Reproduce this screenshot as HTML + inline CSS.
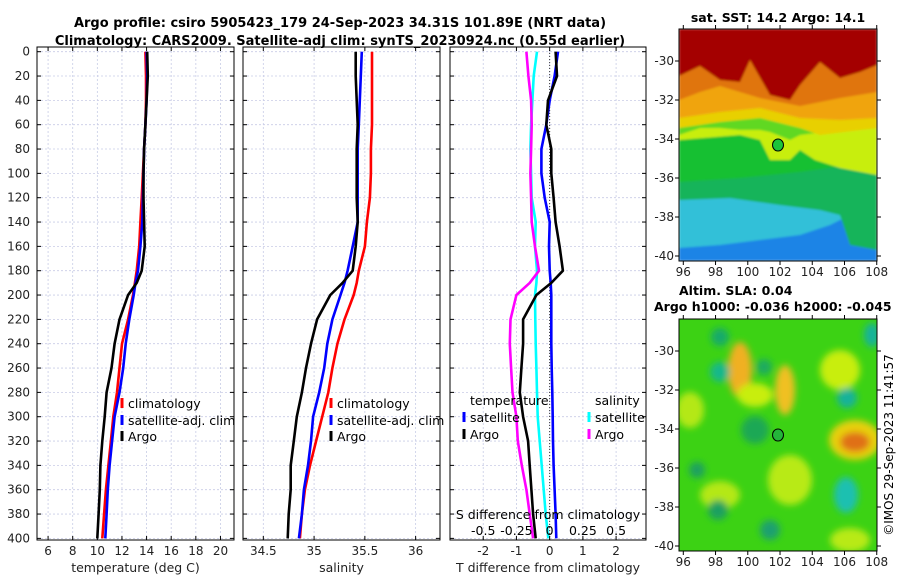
<!DOCTYPE html>
<html><head><meta charset="utf-8"><style>
body{margin:0;background:#fff}
svg{display:block;font-family:"DejaVu Sans","Liberation Sans",sans-serif}
</style></head><body>
<svg id="fig" width="900" height="580" viewBox="0 0 900 580" xmlns="http://www.w3.org/2000/svg">
<defs>
<filter id="b1" x="-20%" y="-20%" width="140%" height="140%"><feGaussianBlur stdDeviation="1"/></filter>
<filter id="b2" x="-50%" y="-50%" width="200%" height="200%"><feGaussianBlur stdDeviation="3.5"/></filter>
<clipPath id="cm1"><rect x="679" y="29" width="198" height="232"/></clipPath>
<clipPath id="cm2"><rect x="679" y="319" width="198" height="232"/></clipPath>
</defs>
<text x="340" y="27" text-anchor="middle" font-size="13" font-weight="bold">Argo profile: csiro 5905423_179 24-Sep-2023 34.31S 101.89E (NRT data)</text>
<text x="340" y="45" text-anchor="middle" font-size="13" font-weight="bold">Climatology: CARS2009. Satellite-adj clim: synTS_20230924.nc (0.55d earlier)</text>
<g id="panels"></g>
<!-- SST map -->
<g>
<text x="778" y="22" text-anchor="middle" font-size="12.5" font-weight="bold">sat. SST: 14.2 Argo: 14.1</text>
<g clip-path="url(#cm1)" filter="url(#b1)">
<rect x="679" y="29" width="198" height="232" fill="#1c84e6"/>
<polygon points="679,29 877,29 877,205 850,215 830,225 800,235 760,240 720,245 679,248" fill="#30c0d8"/>
<polygon points="679,29 877,29 877,250 850,245 840,215 820,210 780,205 730,198 679,200" fill="#14b45a"/>
<polygon points="679,29 877,29 877,165 850,165 800,172 740,178 679,182" fill="#12c030"/>
<polygon points="679,29 877,29 877,175 840,168 815,160 800,150 790,160 770,160 760,140 740,135 679,140" fill="#c8ee10"/>
<polygon points="679,29 877,29 877,125 800,135 790,140 770,132 760,130 740,130 720,128 700,128 679,135" fill="#60d820"/>
<polygon points="679,29 877,29 877,128 820,135 800,128 760,118 720,122 679,128" fill="#e8d000"/>
<polygon points="679,29 877,29 877,118 840,120 800,118 760,108 720,112 679,118" fill="#f0a410"/>
<polygon points="679,29 877,29 877,92 840,98 800,106 760,98 720,86 700,92 679,100" fill="#e07408"/>
<polygon points="679,29 877,29 877,65 860,72 840,78 820,62 800,85 790,100 770,95 750,60 740,82 720,80 700,66 679,76" fill="#a40000"/>
</g>
<rect x="679" y="29" width="198" height="232" fill="none" stroke="#000"/>
<ellipse cx="778" cy="145" rx="5.5" ry="6" fill="#1cc43a" stroke="#000"/>
</g>
<!-- SLA map -->
<g>
<text x="679" y="295" font-size="12.5" font-weight="bold">Altim. SLA: 0.04</text>
<text x="654" y="311" font-size="12.5" font-weight="bold">Argo h1000: -0.036 h2000: -0.045</text>
<g clip-path="url(#cm2)">
<rect x="679" y="319" width="198" height="232" fill="#3cd214"/>
<g filter="url(#b2)">
<ellipse cx="740" cy="370" rx="12" ry="28" fill="#f0b020"/>
<ellipse cx="785" cy="390" rx="10" ry="25" fill="#f0c020"/>
<ellipse cx="755" cy="395" rx="18" ry="12" fill="#c8ee10"/>
<ellipse cx="855" cy="440" rx="26" ry="20" fill="#e8d010"/>
<ellipse cx="855" cy="442" rx="15" ry="10" fill="#e07018"/>
<ellipse cx="840" cy="370" rx="20" ry="20" fill="#c8ee10"/>
<ellipse cx="690" cy="410" rx="14" ry="18" fill="#b4e814"/>
<ellipse cx="720" cy="495" rx="20" ry="14" fill="#b4e814"/>
<ellipse cx="790" cy="480" rx="22" ry="25" fill="#b8ea14"/>
<ellipse cx="850" cy="540" rx="20" ry="12" fill="#b8ea14"/>
<ellipse cx="720" cy="337" rx="9" ry="9" fill="#14aa6a"/>
<ellipse cx="720" cy="372" rx="10" ry="10" fill="#18b88a"/>
<ellipse cx="764" cy="367" rx="8" ry="8" fill="#1aaa60"/>
<ellipse cx="847" cy="398" rx="10" ry="10" fill="#18b29a"/>
<ellipse cx="846" cy="495" rx="12" ry="18" fill="#1ac0b0"/>
<ellipse cx="755" cy="430" rx="14" ry="14" fill="#1aa854"/>
<ellipse cx="718" cy="510" rx="10" ry="10" fill="#1aa060"/>
<ellipse cx="770" cy="530" rx="10" ry="10" fill="#1aa070"/>
<ellipse cx="697" cy="470" rx="8" ry="8" fill="#1aa060"/>
<ellipse cx="872" cy="335" rx="8" ry="12" fill="#18b29a"/>
</g>
</g>
<rect x="679" y="319" width="198" height="232" fill="none" stroke="#000"/>
<ellipse cx="778" cy="435" rx="5.5" ry="6" fill="#24b43a" stroke="#000"/>
<text x="888" y="440" text-anchor="middle" font-size="12" transform="rotate(-90 893 440)">©IMOS 29-Sep-2023 11:41:57</text>
</g>
<g id="mapaxes"></g>
</svg>
<script>
// ---- data ----
const depths = [0,20,40,60,80,100,120,140,160,180,190,200,220,240,260,280,300,320,340,360,380,400];
const tempClim = [13.9,13.95,13.95,13.9,13.8,13.7,13.6,13.5,13.4,13.2,13.05,12.9,12.5,12.0,11.8,11.6,11.3,11.1,10.9,10.7,10.55,10.4];
const tempSat  = [14.0,14.05,14.0,13.9,13.8,13.75,13.7,13.65,13.5,13.3,13.1,12.95,12.6,12.3,12.1,11.8,11.4,11.2,11.0,10.85,10.75,10.65];
const tempArgo = [14.05,14.1,14.0,13.9,13.8,13.75,13.75,13.8,13.85,13.6,13.2,12.5,11.8,11.4,11.15,10.75,10.6,10.4,10.25,10.2,10.1,10.0];
const salClim  = [35.57,35.57,35.57,35.57,35.56,35.56,35.55,35.52,35.5,35.44,35.42,35.39,35.3,35.23,35.18,35.14,35.08,35.02,34.96,34.91,34.88,34.86];
const salSat   = [35.47,35.46,35.45,35.44,35.43,35.43,35.43,35.43,35.38,35.33,35.3,35.26,35.18,35.13,35.1,35.05,34.99,34.97,34.94,34.9,34.88,34.85];
const salArgo  = [35.41,35.41,35.42,35.43,35.42,35.42,35.42,35.43,35.41,35.38,35.28,35.16,35.03,34.97,34.92,34.88,34.83,34.8,34.77,34.77,34.75,34.74];
const dTsat  = [0.25,0.15,0.0,-0.1,-0.25,-0.25,-0.15,0.0,-0.02,0.0,0.03,0.05,0.05,0.05,0.06,0.08,0.09,0.1,0.12,0.15,0.18,0.2];
const dTargo = [0.18,0.22,-0.05,-0.1,0.05,0.05,0.12,0.18,0.3,0.4,0.05,-0.4,-0.8,-0.8,-0.85,-0.9,-0.8,-0.65,-0.6,-0.55,-0.5,-0.42];
const dSsat  = [-0.095,-0.12,-0.13,-0.14,-0.145,-0.14,-0.135,-0.105,-0.11,-0.095,-0.1,-0.11,-0.108,-0.105,-0.1,-0.095,-0.09,-0.075,-0.06,-0.045,-0.03,-0.01];
const dSargo = [-0.175,-0.16,-0.14,-0.135,-0.14,-0.145,-0.14,-0.135,-0.11,-0.08,-0.15,-0.25,-0.295,-0.3,-0.29,-0.28,-0.25,-0.24,-0.21,-0.175,-0.15,-0.125];
const tTicks = [6,8,10,12,14,16,18,20];
const sTicks = [34.5,35,35.5,36];
const dTTicks = [-2,-1,0,1,2];
const dSTickLabels = ["-0.5","-0.25","0","0.25","0.5"];
const depthTicks = [0,20,40,60,80,100,120,140,160,180,200,220,240,260,280,300,320,340,360,380,400];
const lonTicks = [96,98,100,102,104,106,108];
const latTicks = [-30,-32,-34,-36,-38,-40];

const NS='http://www.w3.org/2000/svg';
const svg=document.getElementById('fig');
function mk(tag,attrs,parent){const e=document.createElementNS(NS,tag);for(const k in attrs)e.setAttribute(k,attrs[k]);(parent||svg).appendChild(e);return e;}
const top0=47, bot=540;
const yD = d => 51.7 + d*1.2167;

const panels=[
 {name:'temperature',x0:37,x1:234,v0:5.1,v1:21.1,ticks:tTicks,labels:tTicks.map(String),xlabel:'temperature (deg C)',
  series:[[tempClim,'#ff0000'],[tempSat,'#0000ff'],[tempArgo,'#000000']]},
 {name:'salinity',x0:243,x1:440,v0:34.3,v1:36.24,ticks:sTicks,labels:sTicks.map(String),xlabel:'salinity',
  series:[[salClim,'#ff0000'],[salSat,'#0000ff'],[salArgo,'#000000']]},
 {name:'difference',x0:450,x1:646,v0:-3.0,v1:2.9,ticks:dTTicks,labels:dTTicks.map(String),xlabel:'T difference from climatology',
  series:[[dSsat.map(v=>v*4),'#00ffff'],[dSargo.map(v=>v*4),'#ff00ff'],[dTsat,'#0000ff'],[dTargo,'#000000']]}
];
const pg=document.getElementById('panels');
panels.forEach((p,pi)=>{
  const xs=v=>p.x0+(v-p.v0)/(p.v1-p.v0)*(p.x1-p.x0);
  const g=mk('g',{},pg);
  
  
  p.ticks.forEach(t=>{const l=mk('line',{x1:xs(t),x2:xs(t),y1:top0,y2:bot,stroke:'#c8cce6','stroke-width':0.8,'stroke-dasharray':'2,2'},g);
    });
  depthTicks.forEach(d=>{const l=mk('line',{x1:p.x0,x2:p.x1,y1:yD(d),y2:yD(d),stroke:'#c8cce6','stroke-width':0.8,'stroke-dasharray':'2,2'},g);
    });
  if(pi===2){const z=mk('line',{x1:xs(0),x2:xs(0),y1:top0,y2:bot,stroke:'#333','stroke-width':1,'stroke-dasharray':'1,2'},g);
    }
  p.series.forEach(([vals,col])=>{
    const pts=vals.map((v,i)=>xs(v).toFixed(1)+','+yD(depths[i]).toFixed(1)).join(' ');
    const pl=mk('polyline',{points:pts,fill:'none',stroke:col,'stroke-width':2.6,'stroke-linejoin':'round'},g);
    
  });
  const fr=mk('rect',{x:p.x0,y:top0,width:p.x1-p.x0,height:bot-top0,fill:'none',stroke:'#000','stroke-width':1},g);
  
  p.ticks.forEach((t,i)=>{
    mk('line',{x1:xs(t),x2:xs(t),y1:bot,y2:bot-4,stroke:'#000'},g);
    mk('line',{x1:xs(t),x2:xs(t),y1:top0,y2:top0+4,stroke:'#000'},g);
    const tx=mk('text',{x:xs(t),y:555,'text-anchor':'middle','font-size':12,fill:'#222'},g);
    tx.textContent=p.labels[i];
    
  });
  depthTicks.forEach(d=>{
    mk('line',{x1:p.x0,x2:p.x0+4,y1:yD(d),y2:yD(d),stroke:'#000'},g);
    mk('line',{x1:p.x1,x2:p.x1-4,y1:yD(d),y2:yD(d),stroke:'#000'},g);
    if(pi===0){const tx=mk('text',{x:30,y:yD(d)+4,'text-anchor':'end','font-size':12,fill:'#222'},g);tx.textContent=d;
      }
  });
  const xl=mk('text',{x:(p.x0+p.x1)/2,y:572,'text-anchor':'middle','font-size':12.5,fill:'#222'},g);
  xl.textContent=p.xlabel;
  
});
function legend(x,y,col,label,name){
  mk('rect',{x:x-1.5,y:y-10,width:3,height:10,fill:col});
  const t=mk('text',{x:x+6,y:y,'font-size':12.5,fill:'#000'});t.textContent=label;
  
}
[122,331].forEach(lx=>{
  legend(lx,408,'#ff0000','climatology','legend-climatology');
  legend(lx,425,'#0000ff','satellite-adj. clim','legend-satellite-adj');
  legend(lx,441,'#000000','Argo','legend-argo');
});
let t=mk('text',{x:470,y:405,'font-size':12.5});t.textContent='temperature';

t=mk('text',{x:595,y:405,'font-size':12.5});t.textContent='salinity';

legend(464,422,'#0000ff','satellite','legend-t-satellite');
legend(464,439,'#000000','Argo','legend-t-argo');
legend(589,422,'#00ffff','satellite','legend-s-satellite');
legend(589,439,'#ff00ff','Argo','legend-s-argo');
t=mk('text',{x:548,y:519,'text-anchor':'middle','font-size':12.5});t.textContent='S difference from climatology';

dSTickLabels.forEach((lab,i)=>{
  const x=450+(dTTicks[i]+3.0)/5.9*196;
  const tt=mk('text',{x:x,y:535,'text-anchor':'middle','font-size':12.5});tt.textContent=lab;
  
});
const ma=document.getElementById('mapaxes');
const lonX=v=>683.3+(v-96)*16.12;
[[29,261,61],[319,551,351]].forEach(([mt,mb,l30])=>{
  const latY=v=>l30+(-30-v)*19.5;
  lonTicks.forEach(v=>{
    mk('line',{x1:lonX(v),x2:lonX(v),y1:mb,y2:mb+4,stroke:'#000'},ma);
    mk('line',{x1:lonX(v),x2:lonX(v),y1:mt,y2:mt-4,stroke:'#000'},ma);
    const tx=mk('text',{x:lonX(v),y:mb+15,'text-anchor':'middle','font-size':12,fill:'#222'},ma);tx.textContent=v;
    
  });
  latTicks.forEach(v=>{
    mk('line',{x1:679,x2:675,y1:latY(v),y2:latY(v),stroke:'#000'},ma);
    mk('line',{x1:877,x2:881,y1:latY(v),y2:latY(v),stroke:'#000'},ma);
    const tx=mk('text',{x:674,y:latY(v)+4,'text-anchor':'end','font-size':12,fill:'#222'},ma);tx.textContent=v;
    
  });
});
</script>
</body></html>
